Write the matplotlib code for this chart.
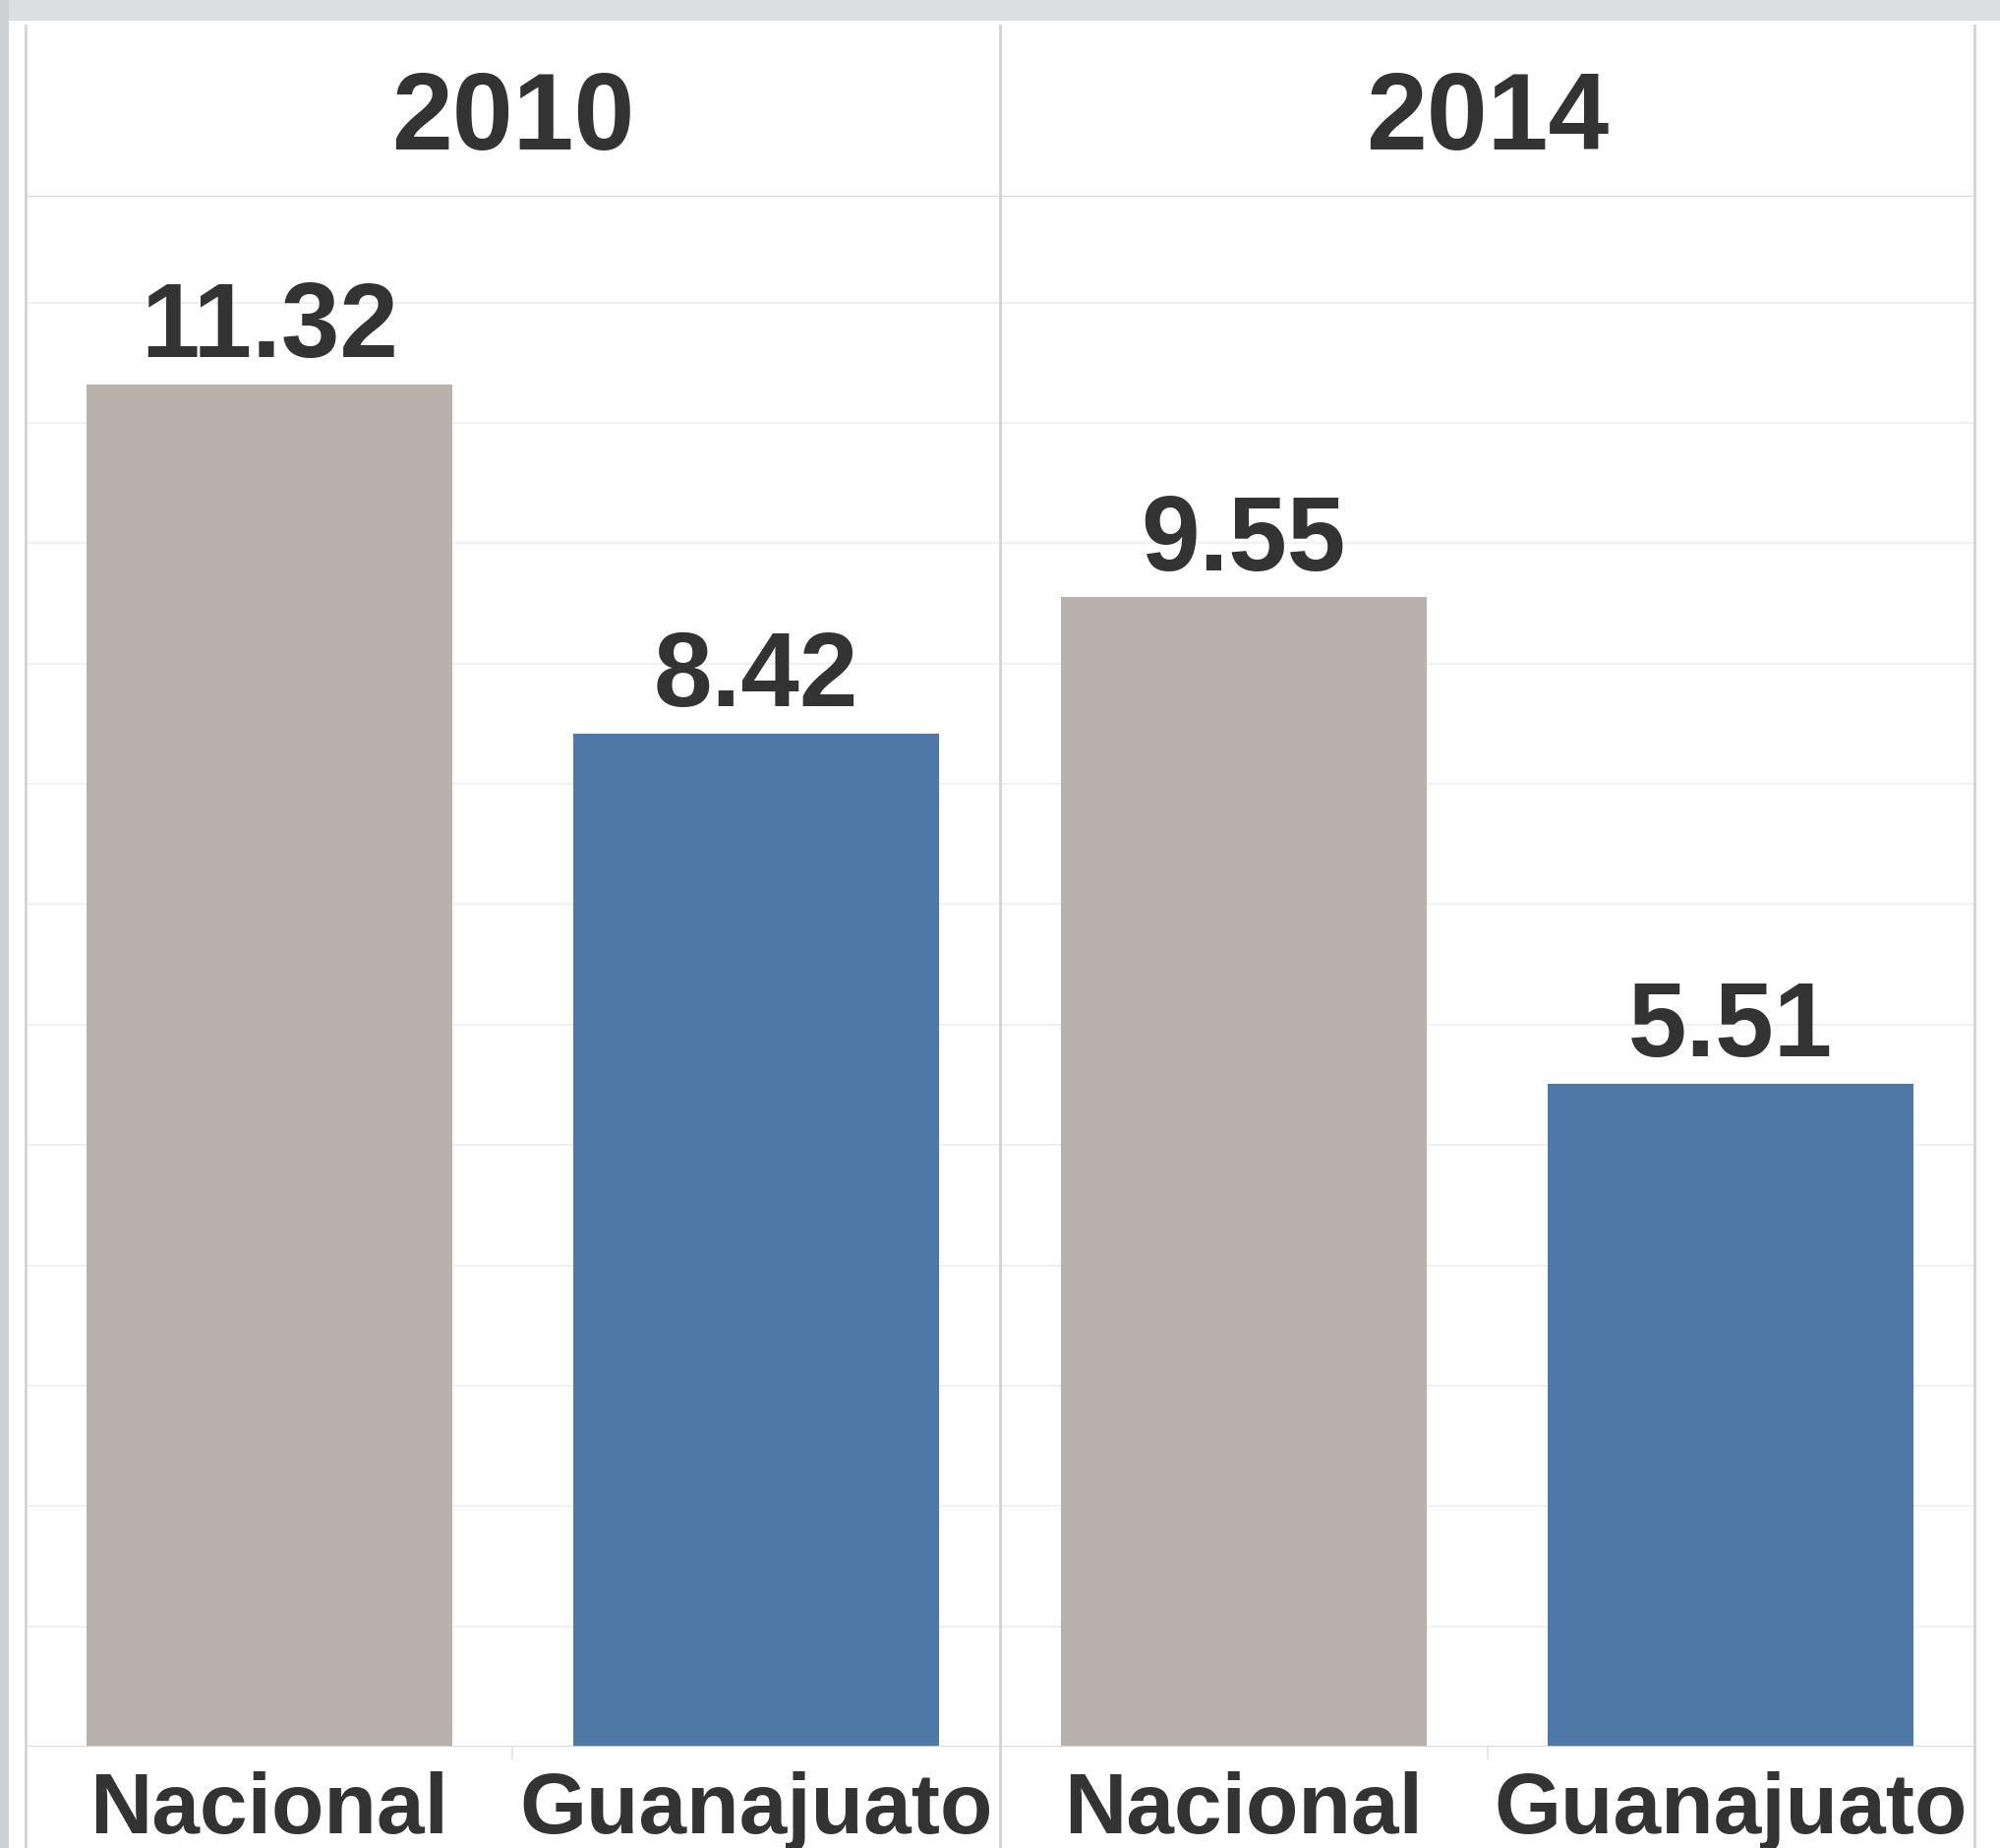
import matplotlib
matplotlib.use("Agg")
import matplotlib.pyplot as plt
from matplotlib.patches import Rectangle
from matplotlib.lines import Line2D

# data
years = ["2010", "2014"]
regions = ["Nacional", "Guanajuato"]
values_2010 = [11.32, 8.42]
values_2014 = [9.55, 5.51]
value_labels = ["11.32", "8.42", "9.55", "5.51"]

gray = "#BAB0AC"
blue = "#4E79A7"
text_color = "#333333"
line_color = "#D3D3D3"

plt.rcParams["font.family"] = ["Liberation Sans", "DejaVu Sans"]

W, H = 2034, 1879
fig = plt.figure(figsize=(W / 100, H / 100), dpi=100, facecolor="white")

# gray window edges (top strip and left strip)
fig.patches.append(Rectangle((0, 1 - 21 / H), 1, 21 / H, transform=fig.transFigure,
                             facecolor="#DCDFE1", edgecolor="none", zorder=0))
fig.patches.append(Rectangle((0, 0), 9 / W, 1, transform=fig.transFigure,
                             facecolor="#CDD1D3", edgecolor="none", zorder=0))

left, right = 26 / W, 2008 / W
bottom, top = (H - 1776) / H, (H - 200) / H
ax = fig.add_axes([left, bottom, right - left, top - bottom])

all_values = values_2010 + values_2014
colors = [gray, blue, gray, blue]
xs = list(range(len(all_values)))
bars = ax.bar(xs, all_values, width=0.75, color=colors, zorder=2)

ax.set_xlim(-0.5, 3.5)
ax.set_ylim(0, 12.88)
for y in range(1, 13):
    ax.axhline(y, color="#F0F0F0", lw=1.5, zorder=1)
ax.axhline(0, color="#D6D6D6", lw=2, zorder=3)

for s in ax.spines.values():
    s.set_visible(False)
ax.set_xticks([])
ax.set_yticks([])

# value labels
for x, v, lab in zip(xs, all_values, value_labels):
    ax.annotate(lab, xy=(x, v), xytext=(0, 20), textcoords="offset points",
                ha="center", va="baseline", fontsize=77, fontweight="bold",
                color=text_color)

# category labels under bars
cats = regions + regions
for x, c in zip(xs, cats):
    ax.annotate(c, xy=(x, 0), xycoords=("data", "axes fraction"),
                xytext=(0, -63.5), textcoords="offset points",
                ha="center", va="baseline", fontsize=63, fontweight="bold",
                color=text_color, annotation_clip=False)

# header axes with years
hax = fig.add_axes([left, top, right - left, (200 - 26) / H])
hax.set_xlim(-0.5, 3.5)
hax.set_ylim(0, 1)
hax.set_xticks([])
hax.set_yticks([])
for s in hax.spines.values():
    s.set_visible(False)
hax.axhline(0, color=line_color, lw=2)
for i, yr in enumerate(years):
    hax.text(0.5 + 2 * i, 48 / 174, yr, ha="center", va="baseline",
             fontsize=80, fontweight="bold", color=text_color)

# panel dividers drawn in figure coords
def fx(xdata):
    return left + (xdata + 0.5) / 4 * (right - left)

for xd in (-0.5, 1.5, 3.5):
    fig.lines.append(Line2D([fx(xd), fx(xd)], [0, 1 - 26 / H], transform=fig.transFigure,
                            color=line_color, lw=2))
# faint separators between regions below baseline
for xd in (0.5, 2.5):
    fig.lines.append(Line2D([fx(xd), fx(xd)], [bottom - 12 / H, bottom], transform=fig.transFigure,
                            color="#E6E6E6", lw=1.5))

fig.savefig("out.png", dpi=100, facecolor="white")
